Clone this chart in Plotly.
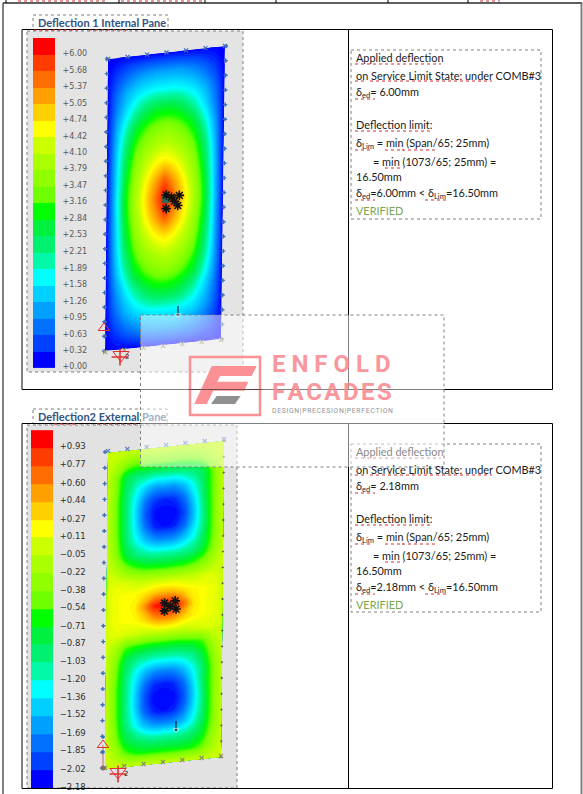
import numpy as np
import plotly.graph_objects as go

# ---------- data ----------
levels_1 = [6.00,5.68,5.37,5.05,4.74,4.42,4.10,3.79,3.47,3.16,2.84,2.53,2.21,1.89,1.58,1.26,0.95,0.63,0.32,0.00]
levels_2 = [0.93,0.77,0.60,0.44,0.27,0.11,-0.05,-0.22,-0.38,-0.54,-0.71,-0.87,-1.03,-1.20,-1.36,-1.52,-1.69,-1.85,-2.02,-2.18]
labels_1 = ["+%.2f" % v for v in levels_1]
labels_2 = [("+%.2f" % v) if v > 0 else ("\u2212%.2f" % abs(v)) for v in levels_2]
band_colors = ["#ff0000","#ff3c00","#ff6c00","#ffa000","#ffd000","#ffff00","#ccff00","#aaff00",
               "#90ff00","#70ff00","#00ff00","#00f040","#00f070","#00f8a8","#00ffff","#00d0ff",
               "#00a0ff","#0070ff","#0040ff","#0000ff"]

deflection_1 = [
 [0,0,0,0,0,0,0,0,0,0,0,0,0],
 [0,.3,.55,.75,.88,.95,.95,.95,.88,.75,.55,.3,0],
 [0,.6,1.05,1.35,1.5,1.6,1.6,1.6,1.5,1.35,1.05,.6,0],
 [0,.8,1.4,1.9,2.3,2.55,2.6,2.55,2.3,1.9,1.4,.8,0],
 [0,1.05,1.85,2.6,3.0,3.25,3.35,3.25,3.0,2.6,1.85,1.05,0],
 [0,1.2,2.25,3.05,3.5,3.8,3.95,3.8,3.5,3.05,2.25,1.2,0],
 [0,1.3,2.5,3.4,4.0,4.4,4.6,4.4,4.0,3.4,2.5,1.3,0],
 [0,1.35,2.7,3.65,4.4,5.0,5.5,5.0,4.4,3.65,2.7,1.35,0],
 [0,1.4,2.8,3.8,4.6,5.3,6.0,5.3,4.6,3.8,2.8,1.4,0],
 [0,1.35,2.7,3.65,4.4,5.0,5.5,5.0,4.4,3.65,2.7,1.35,0],
 [0,1.3,2.5,3.4,4.0,4.4,4.6,4.4,4.0,3.4,2.5,1.3,0],
 [0,1.2,2.25,3.05,3.5,3.8,3.95,3.8,3.5,3.05,2.25,1.2,0],
 [0,1.05,1.85,2.6,3.0,3.25,3.35,3.25,3.0,2.6,1.85,1.05,0],
 [0,.8,1.4,1.9,2.3,2.55,2.6,2.55,2.3,1.9,1.4,.8,0],
 [0,.6,1.05,1.35,1.5,1.6,1.6,1.6,1.5,1.35,1.05,.6,0],
 [0,.3,.55,.75,.88,.95,.95,.95,.88,.75,.55,.3,0],
 [0,0,0,0,0,0,0,0,0,0,0,0,0],
]
deflection_2 = [
 [-.05,-.05,-.05,-.05,-.05,-.05,-.05,-.05,-.05,-.05,-.05,-.05,-.05],
 [-.05,-.2,-.4,-.5,-.5,-.5,-.5,-.5,-.5,-.45,-.35,-.2,-.05],
 [-.08,-.45,-.9,-1.05,-1.1,-1.15,-1.15,-1.15,-1.1,-1.05,-.9,-.45,-.08],
 [-.1,-.5,-1.0,-1.3,-1.55,-1.7,-1.7,-1.7,-1.55,-1.3,-.95,-.5,-.08],
 [-.1,-.55,-1.05,-1.45,-1.85,-2.05,-2.1,-2.05,-1.85,-1.45,-1.0,-.5,-.1],
 [-.1,-.55,-1.05,-1.5,-1.95,-2.17,-2.18,-2.17,-1.98,-1.55,-1.05,-.5,-.1],
 [-.1,-.55,-1.05,-1.45,-1.85,-2.1,-2.15,-2.1,-1.88,-1.48,-1.05,-.5,-.1],
 [-.1,-.5,-1.0,-1.32,-1.55,-1.72,-1.75,-1.72,-1.55,-1.32,-.95,-.5,-.1],
 [-.08,-.42,-.85,-1.05,-1.15,-1.2,-1.2,-1.2,-1.15,-1.05,-.8,-.4,-.08],
 [-.05,-.2,-.45,-.6,-.7,-.72,-.75,-.72,-.7,-.6,-.45,-.2,-.05],
 [-.02,.02,-.02,-.08,-.1,-.1,-.1,-.1,-.1,-.08,-.02,0,-.05],
 [0,.08,.1,.12,.2,.3,.35,.32,.22,.14,.1,.05,-.03],
 [-.03,.08,.1,.18,.5,.88,.93,.9,.62,.2,.1,.05,-.03],
 [0,.08,.1,.12,.25,.45,.5,.45,.28,.14,.1,.05,-.03],
 [-.02,.02,-.02,-.05,-.1,-.1,-.08,-.1,-.1,-.05,-.02,0,-.05],
 [-.05,-.25,-.6,-.7,-.75,-.78,-.78,-.78,-.75,-.7,-.6,-.25,-.05],
 [-.08,-.42,-.9,-1.1,-1.2,-1.25,-1.25,-1.25,-1.2,-1.1,-.85,-.42,-.08],
 [-.1,-.5,-1.0,-1.35,-1.6,-1.75,-1.78,-1.75,-1.6,-1.35,-1.0,-.5,-.1],
 [-.1,-.55,-1.05,-1.45,-1.85,-2.08,-2.12,-2.08,-1.88,-1.48,-1.0,-.5,-.1],
 [-.1,-.55,-1.05,-1.5,-1.95,-2.17,-2.18,-2.17,-1.98,-1.55,-1.05,-.5,-.1],
 [-.1,-.55,-1.05,-1.45,-1.88,-2.1,-2.15,-2.1,-1.88,-1.48,-1.05,-.5,-.1],
 [-.1,-.5,-1.0,-1.32,-1.58,-1.72,-1.75,-1.72,-1.58,-1.32,-.95,-.5,-.08],
 [-.08,-.42,-.85,-1.0,-1.1,-1.15,-1.15,-1.15,-1.1,-1.0,-.8,-.4,-.08],
 [-.05,-.25,-.55,-.7,-.75,-.75,-.75,-.75,-.75,-.7,-.55,-.25,-.05],
 [-.05,-.05,-.05,-.05,-.05,-.05,-.05,-.05,-.05,-.05,-.05,-.05,-.05],
]
# load-point positions in panel grid units
hits_1_a = [6.15,7.5,7.0,6.15,7.35,6.7]
hits_1_b = [7.8,7.9,8.2,8.55,8.45,7.96]
hits_2_a = [6.0,7.1,6.6,6.0,7.2]
hits_2_b = [11.85,11.77,12.15,12.45,12.4]

text_1 = ["Applied deflection","on Service Limit State: under COMB#3","\u03b4<sub>ed</sub>= 6.00mm",
          "Deflection limit:","\u03b4<sub>Lim</sub> = min (Span/65; 25mm)","= min (1073/65; 25mm) =",
          "16.50mm","\u03b4<sub>ed</sub>=6.00mm &lt; \u03b4<sub>Lim</sub>=16.50mm"]
text_2 = ['<span style="color:#8a8a8a">Applied deflection</span>',"on Service Limit State: under COMB#3","\u03b4<sub>ed</sub>= 2.18mm",
          "Deflection limit:","\u03b4<sub>Lim</sub> = min (Span/65; 25mm)","= min (1073/65; 25mm) =",
          "16.50mm","\u03b4<sub>ed</sub>=2.18mm &lt; \u03b4<sub>Lim</sub>=16.50mm"]
text_offsets = [0,18,35,67,86,104,119,136]
text_indent = [0,0,0,0,0,17,0,0]

# ---------- page layout helpers (page pixels) ----------
W, H = 583, 794
C1 = dict(tl=(108,59), tr=(225,46), br=(221,339), bl=(105,351))
C2 = dict(tl=(108,453), tr=(224,441), br=(221,757), bl=(105,769))

def page_xy(c, a, b, na, nb):
    a = np.asarray(a, float)/na; b = np.asarray(b, float)/nb
    x = (1-a)*(1-b)*c["tl"][0] + a*(1-b)*c["tr"][0] + a*b*c["br"][0] + (1-a)*b*c["bl"][0]
    y = (1-a)*(1-b)*c["tl"][1] + a*(1-b)*c["tr"][1] + a*b*c["br"][1] + (1-a)*b*c["bl"][1]
    return x, y

fig = go.Figure()
cont_scale = [[i/19, col] for i, col in enumerate(band_colors[::-1])]

def add_panel(cid, z, corners, levels):
    z = np.array(z, float)
    nb, na = z.shape[0]-1, z.shape[1]-1
    A = np.arange(na+1); B = np.arange(nb+1)
    AA, BB = np.meshgrid(A, B)
    X, Y = page_xy(corners, AA, BB, na, nb)
    hidden = dict(showgrid=False, showticklabels="none", startline=False, endline=False,
                  minorgridcount=0, showline=False)
    fig.add_trace(go.Carpet(carpet=cid, a=A.tolist(), b=B.tolist(), x=X.tolist(), y=Y.tolist(),
                            aaxis=hidden, baxis=hidden))
    lo, hi = min(levels), max(levels)
    fig.add_trace(go.Contourcarpet(carpet=cid, a=A.tolist(), b=B.tolist(), z=z.tolist(),
        autocontour=False, contours=dict(start=lo, end=hi, size=(hi-lo)/70, coloring="fill", showlines=False),
        line=dict(width=0), colorscale=cont_scale, zmin=lo, zmax=hi, showscale=False))

add_panel("c1", deflection_1, C1, levels_1)
add_panel("c2", deflection_2, C2, levels_2)

def nodes(corners, z, offs, top_col, left_col, right_col, bot_col, rsize=4):
    nb, na = len(z)-1, len(z[0])-1
    ta = [na*i/6 for i in range(7)]
    sb = [nb*i/20 for i in range(21)]
    x, y = page_xy(corners, ta, [0]*7, na, nb)
    fig.add_trace(go.Scatter(x=x+offs[0][0], y=y+offs[0][1], mode="markers",
        marker=dict(symbol="x-thin", size=4, line=dict(width=1.2, color=top_col))))
    x, y = page_xy(corners, [0]*21, sb, na, nb)
    fig.add_trace(go.Scatter(x=x+offs[1][0], y=y+offs[1][1], mode="markers",
        marker=dict(symbol="cross", size=3.5, color=left_col)))
    x, y = page_xy(corners, [na]*21, sb, na, nb)
    fig.add_trace(go.Scatter(x=x+offs[2][0], y=y+offs[2][1], mode="markers",
        marker=dict(symbol="cross", size=rsize, color=right_col)))
    x, y = page_xy(corners, ta, [nb]*7, na, nb)
    fig.add_trace(go.Scatter(x=x+offs[3][0], y=y+offs[3][1], mode="markers",
        marker=dict(symbol="x-thin", size=4, line=dict(width=1.2, color=bot_col))))

nodes(C1, deflection_1, [(0,0),(-1,0),(1,0),(0,1)], "#3f6fb5", "#3f6fb5", "#3f6fb5", "#a0a070", rsize=3.5)
nodes(C2, deflection_2, [(0,-2),(-3,-1),(0,0),(0,-1)], "#5f86c0", "#3f6fb5", "#555555", "#8a9060", rsize=2)

# load clusters
x, y = page_xy(C1, [6.1], [8.05], 12, 16)
fig.add_trace(go.Scatter(x=x, y=y, mode="markers", marker=dict(symbol="square", size=7, color="#2f6a50")))
for cor, ha, hb, nb in ((C1, hits_1_a, hits_1_b, 16), (C2, hits_2_a, hits_2_b, 24)):
    x, y = page_xy(cor, ha, hb, 12, nb)
    fig.add_trace(go.Scatter(x=x, y=y, mode="markers", marker=dict(symbol="circle", size=4, color="#111111")))
    fig.add_trace(go.Scatter(x=x, y=y, mode="markers",
        marker=dict(symbol="asterisk-open", size=8, color="#111111", line=dict(width=1.6, color="#111111"))))
# load arrows
for xs, ys in [((178,178),(306,315)), ((176,176),(721,730))]:
    fig.add_trace(go.Scatter(x=list(xs), y=list(ys), mode="lines+markers", line=dict(color="#111111", width=1),
        marker=dict(symbol=["circle","triangle-down"], size=[0,5], color="#111111")))
# supports
fig.add_trace(go.Scatter(x=[103,103], y=[745,768], mode="lines", line=dict(color="#d06060", width=1)))
fig.add_trace(go.Scatter(x=[105,105,103,103], y=[322,336,737,752], mode="markers",
    marker=dict(symbol="circle", size=3.5, color="#3f6fb5")))
fig.add_trace(go.Scatter(x=[104,103], y=[328,745], mode="markers",
    marker=dict(symbol="triangle-up-open", size=10, color="#e03030", line=dict(width=1, color="#e03030"))))
fig.add_trace(go.Scatter(x=[121,118], y=[355,772], mode="markers",
    marker=dict(symbol="triangle-down-open", size=14, color="#e03030", line=dict(width=1, color="#e03030"))))
fig.add_trace(go.Scatter(x=[120,118], y=[357,774], mode="markers",
    marker=dict(symbol="cross-thin", size=12, line=dict(width=1.6, color="#e03030"))))
fig.add_trace(go.Scatter(x=[103], y=[768], mode="markers", marker=dict(symbol="circle", size=5, color="#807060")))

# legends as heatmaps on their own axes
disc = []
for i, col in enumerate(band_colors):
    disc += [[i/20, col], [(i+1)/20, col]]

def add_legend(ax, levels, labels, x0, x1, y0, y1, font):
    step = (levels[0]-levels[-1])/19
    bandy = [v + 0.42*step for v in levels]
    fig.add_trace(go.Heatmap(x=[0.5], y=bandy, z=[[i] for i in range(20)], zmin=-0.5, zmax=19.5,
        colorscale=disc, showscale=False, xaxis="x"+ax, yaxis="y"+ax, zsmooth=False))
    fig.update_layout(**{
        "xaxis"+ax: dict(domain=[x0/W, x1/W], range=[0,1], visible=False, fixedrange=True, automargin=False),
        "yaxis"+ax: dict(domain=[1-y1/H, 1-y0/H], range=[levels[-1]-0.08*step, levels[0]+0.92*step],
                         anchor="x"+ax, side="right", tickmode="array", tickvals=levels, ticktext=labels,
                         showgrid=False, zeroline=False, showline=False, ticks="outside", ticklen=font[2],
                         tickcolor="rgba(0,0,0,0)", tickfont=dict(family="DejaVu Sans", size=font[0], color=font[1]),
                         fixedrange=True, automargin=False)})

add_legend("2", levels_1, labels_1, 33, 55, 38, 368, (8, "#5a5a5a", 5))
add_legend("3", levels_2, labels_2, 31, 53, 430, 788, (8.5, "#303030", 4))

# ---------- shapes ----------
shapes = []
def rect(x0,y0,x1,y1, **kw):
    shapes.append(dict(type="rect", x0=x0,y0=y0,x1=x1,y1=y1, xref="x", yref="y", **kw))
def line(x0,y0,x1,y1,color="#000000",width=1,dash="solid",layer="above"):
    shapes.append(dict(type="line",x0=x0,y0=y0,x1=x1,y1=y1,xref="x",yref="y",layer=layer,
                       line=dict(color=color,width=width,dash=dash)))

DOT = dict(color="#808080", width=1, dash="dot")
rect(27,31,243,372, fillcolor="#e4e4e4", line=DOT, layer="below")
rect(27,425,237,788, fillcolor="#e2e2e2", line=DOT, layer="below")
rect(351,50,541,219, line=DOT, layer="below")
rect(351,444,541,612, line=DOT, layer="below")
rect(33,15,168,30, line=DOT, layer="below")
rect(33,409,167,424, line=DOT, layer="below")

# page frame
line(3,3,3,794,"#808080",2)
line(581.5,3,581.5,794,"#808080",2)
line(3,3,582,3,"#606060",2)
for xt in [6,119,205,276,388,468]:
    line(xt,0,xt,3,"#000000",1)
for x0,x1 in [(18,105),(121,203),(480,500)]:
    line(x0,1,x1,1,"#c83030",1,"dot")

# tables
for y0,y1 in [(29.5,389.5),(423.5,788.5)]:
    line(22,y0,552.5,y0); line(22,y1,552.5,y1)
    line(22,y0,22,y1); line(552.5,y0,552.5,y1); line(348.5,y0,348.5,y1)

# spell-check squiggles
SQ = "#d03030"
for y0 in (0, 394):
    for x0,x1,y in [(355,441,64),(355,366,81),(370,492,81),(355,375,99),(355,431,131),(355,372,150),
                    (385,404,150),(402,436,150),(385,404,168),(355,375,200),(425,447,200)]:
        line(x0,y+y0,x1,y+y0,SQ,1,"dot")
for x0,x1,y in [(34,78,30),(89,128,30),(54,78,424),(97,137,424)]:
    line(x0,y,x1,y,SQ,1,"dot")

# watermark panel
rect(140.5,315,444,467, fillcolor="rgba(255,255,255,0.5)", line=DOT, layer="above")
PINK = "#fb9095"
rect(190,357,260,415, line=dict(color=PINK,width=2.5), layer="above")
shapes.append(dict(type="path", xref="x", yref="y", layer="above", fillcolor=PINK, line=dict(width=0),
    path="M194.3,404 L211.7,366 L256.7,366 L251.7,376 L220,376 L217.3,381.7 L248.3,381.7 L244.3,390.7 L213.3,390.7 L206.7,404 Z"))
shapes.append(dict(type="path", xref="x", yref="y", layer="above", fillcolor="#909090", line=dict(width=0),
    path="M216.7,396 L240.7,396 L235,404 L211,404 Z"))
line(188,389.5,262,389.5,"rgba(70,40,40,0.7)",1)

# ---------- annotations ----------
ann = []
def txt(x,y,s,size=10.9,color="#1a1a1a",bold=False,family="Lato",anchor="left",opacity=1):
    ann.append(dict(x=x,y=y,text=("<b>%s</b>"%s) if bold else s,xref="x",yref="y",xanchor=anchor,yanchor="middle",
                    showarrow=False,align="left",borderpad=0,opacity=opacity,
                    font=dict(family=family,size=size,color=color)))

txt(37,22,"Deflection 1 Internal Pane",11,"#2f5384",True)
txt(37,416,'Deflection2 External <span style="color:#9fb0c8">Pane</span>',11,"#2f5384",True)
for base, lines_, in ((57,text_1),(451,text_2)):
    for s,o,ind in zip(lines_,text_offsets,text_indent):
        txt(355+ind,base+o,s)
txt(355,210,"VERIFIED",10.9,"#76a84e")
txt(355,604,"VERIFIED",10.9,"#76a84e")
txt(127,357,"2",7,"#404040",family="DejaVu Sans",anchor="center")
txt(126,774,"2",7,"#202020",family="DejaVu Sans",anchor="center")

txt(271,364,"E N F O L D",24,"#f9858b",True,"Roboto",opacity=0.85)
txt(271,392,"\u200a".join("FACADES"),24,"#f9858b",True,"Roboto",opacity=0.85)
txt(270.5,411,"\u200a".join("DESIGN|PRECESION|PERFECTION"),6.8,"#8f9298",False,"Roboto")

fig.update_layout(
    width=W, height=H, margin=dict(l=0,r=0,t=0,b=0,pad=0,autoexpand=False), showlegend=False,
    paper_bgcolor="#ffffff", plot_bgcolor="rgba(0,0,0,0)",
    xaxis=dict(domain=[0,1], range=[0,W], visible=False, fixedrange=True, automargin=False),
    yaxis=dict(domain=[0,1], range=[H,0], visible=False, fixedrange=True, automargin=False),
    shapes=shapes, annotations=ann,
)
fig.write_html("out.html", config=dict(displayModeBar=False),
               post_script="document.body.style.margin='0';document.body.style.overflow='hidden';")
